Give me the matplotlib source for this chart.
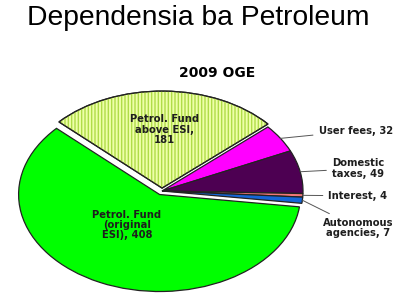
import matplotlib
matplotlib.use('Agg')
import matplotlib.pyplot as plt
from matplotlib.patches import Wedge
import numpy as np

# данные диаграммы
labels = ['Petrol. Fund\nabove ESI,\n181', 'User fees, 32', 'Domestic\ntaxes, 49',
          'Interest, 4', 'Autonomous\nagencies, 7', 'Petrol. Fund\n(original\nESI), 408']
values = [181, 32, 49, 4, 7, 408]
colors = ['#EEFFA8', '#FF00FF', '#4D0052', '#F07878', '#1466D8', '#00FF00']
explode = [0.03, 0, 0, 0, 0, 0.04]

fig = plt.figure(figsize=(3.97, 2.97), dpi=100)
fig.text(0.5, 0.94, 'Dependensia ba Petroleum', ha='center', va='center',
         fontsize=20.3, family='Liberation Sans')

# оси под эллипс пирога
ax = fig.add_axes([21 / 397, 9 / 297, 282 / 397, 194 / 297])
wedges, _ = ax.pie(values, colors=colors, explode=explode, startangle=137,
                   counterclock=False,
                   wedgeprops=dict(edgecolor='#222222', linewidth=0.9))
ax.set_aspect('auto')
ax.set_xlim(-1, 1)
ax.set_ylim(-1, 1)
for w in wedges:
    w.set_clip_on(False)

# штриховка для первого сектора
w0 = wedges[0]
hatch = Wedge(w0.center, w0.r, w0.theta1, w0.theta2, facecolor='none',
              edgecolor='#B0DC48', linewidth=0, hatch='|||||', clip_on=False)
ax.add_patch(hatch)
ax.add_patch(Wedge(w0.center, w0.r, w0.theta1, w0.theta2, facecolor='none',
                   edgecolor='#222222', linewidth=0.9, clip_on=False))

tc = '#1e1e1e'
ax.text(0.02, 0.63, labels[0], ha='center', va='center', fontsize=7.2,
        fontweight='bold', color=tc, linespacing=1.05)
ax.text(-0.25, -0.35, labels[5], ha='center', va='center', fontsize=7.2,
        fontweight='bold', color=tc, linespacing=1.05)

# подписи справа с выносками
pos = {1: (1.11, 0.62, 'left'), 2: (1.39, 0.23, 'center'),
       3: (1.18, -0.05, 'left'), 4: (1.39, -0.38, 'center')}
for i, (x, y, ha) in pos.items():
    w = wedges[i]
    ang = np.deg2rad((w.theta1 + w.theta2) / 2)
    ax.annotate(labels[i], xy=(np.cos(ang), np.sin(ang)), xytext=(x, y),
                ha=ha, va='center', fontsize=7.2, fontweight='bold', color=tc,
                linespacing=1.05, annotation_clip=False,
                arrowprops=dict(arrowstyle='-', color='#555555', lw=0.7,
                                shrinkA=2, shrinkB=0))

fig.text(217 / 397, 1 - 73 / 297, '2009 OGE', ha='center', va='center',
         fontsize=10, fontweight='bold')

plt.savefig('out.png', dpi=100)
